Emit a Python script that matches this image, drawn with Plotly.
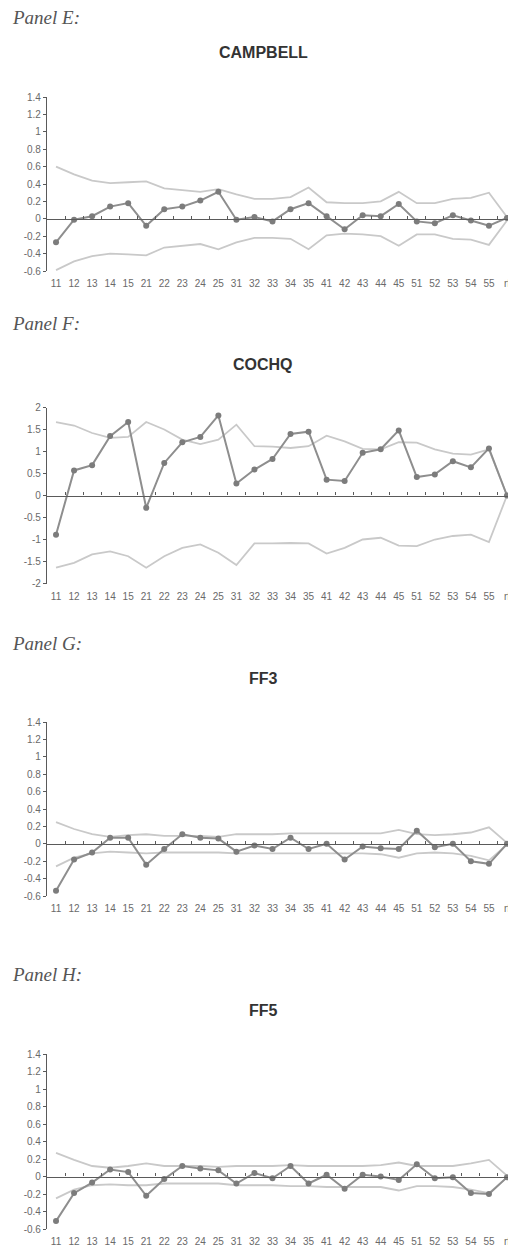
import plotly.graph_objects as go

# The page body has an 8px default margin, so the figure is drawn smaller
# and every reference pixel position is offset by 8px.
OFF = 8
W, H = 516 - OFF, 1256 - 2 * OFF

categories = ["11", "12", "13", "14", "15", "21", "22", "23", "24", "25",
              "31", "32", "33", "34", "35", "41", "42", "43", "44", "45",
              "51", "52", "53", "54", "55", "rf"]

# Panel E: CAMPBELL
campbell_alpha = [-0.27, -0.01, 0.03, 0.14, 0.18, -0.08, 0.11, 0.14, 0.21, 0.31,
                  -0.01, 0.02, -0.03, 0.11, 0.18, 0.03, -0.12, 0.04, 0.03, 0.17,
                  -0.03, -0.05, 0.04, -0.02, -0.08, 0.01]
campbell_upper = [0.60, 0.51, 0.44, 0.41, 0.42, 0.43, 0.35, 0.33, 0.31, 0.34,
                  0.28, 0.23, 0.23, 0.25, 0.36, 0.19, 0.18, 0.18, 0.20, 0.31,
                  0.18, 0.18, 0.23, 0.24, 0.30, 0.02]
campbell_lower = [-0.59, -0.49, -0.43, -0.40, -0.41, -0.42, -0.33, -0.31, -0.29, -0.35,
                  -0.27, -0.22, -0.22, -0.23, -0.35, -0.19, -0.17, -0.18, -0.20, -0.31,
                  -0.18, -0.18, -0.23, -0.24, -0.30, -0.02]

# Panel F: COCHQ
cochq_alpha = [-0.89, 0.57, 0.69, 1.35, 1.67, -0.28, 0.74, 1.21, 1.33, 1.82,
               0.27, 0.59, 0.83, 1.40, 1.45, 0.36, 0.33, 0.97, 1.05, 1.48,
               0.42, 0.48, 0.78, 0.64, 1.07, 0.00]
cochq_upper = [1.67, 1.59, 1.42, 1.31, 1.33, 1.67, 1.50, 1.27, 1.17, 1.27,
               1.61, 1.12, 1.11, 1.08, 1.12, 1.36, 1.23, 1.06, 1.05, 1.21,
               1.20, 1.05, 0.95, 0.93, 1.05, 0.00]
cochq_lower = [-1.64, -1.53, -1.34, -1.27, -1.38, -1.64, -1.38, -1.19, -1.11, -1.30,
               -1.58, -1.09, -1.09, -1.08, -1.09, -1.32, -1.19, -1.00, -0.96, -1.14,
               -1.15, -1.00, -0.92, -0.89, -1.06, 0.00]

# Panel G: FF3
ff3_alpha = [-0.54, -0.18, -0.10, 0.07, 0.07, -0.24, -0.06, 0.11, 0.07, 0.06,
             -0.09, -0.02, -0.06, 0.07, -0.06, 0.00, -0.18, -0.03, -0.05, -0.06,
             0.15, -0.04, 0.00, -0.20, -0.23, 0.00]
ff3_upper = [0.25, 0.17, 0.11, 0.08, 0.10, 0.11, 0.09, 0.09, 0.09, 0.08,
             0.11, 0.11, 0.11, 0.12, 0.12, 0.12, 0.12, 0.12, 0.12, 0.16,
             0.11, 0.10, 0.11, 0.13, 0.19, 0.01]
ff3_lower = [-0.26, -0.16, -0.11, -0.09, -0.10, -0.11, -0.10, -0.10, -0.10, -0.10,
             -0.11, -0.11, -0.11, -0.11, -0.11, -0.11, -0.11, -0.11, -0.12, -0.16,
             -0.11, -0.10, -0.11, -0.14, -0.19, -0.01]

# Panel H: FF5
ff5_alpha = [-0.51, -0.19, -0.07, 0.08, 0.05, -0.22, -0.03, 0.12, 0.09, 0.07,
             -0.08, 0.04, -0.02, 0.12, -0.08, 0.02, -0.14, 0.02, 0.00, -0.04,
             0.14, -0.02, -0.01, -0.19, -0.20, -0.01]
ff5_upper = [0.27, 0.19, 0.12, 0.10, 0.12, 0.15, 0.12, 0.12, 0.12, 0.11,
             0.12, 0.12, 0.12, 0.13, 0.12, 0.12, 0.12, 0.12, 0.13, 0.16,
             0.12, 0.12, 0.12, 0.15, 0.19, 0.01]
ff5_lower = [-0.25, -0.15, -0.10, -0.09, -0.10, -0.10, -0.08, -0.08, -0.08, -0.08,
             -0.10, -0.10, -0.10, -0.11, -0.11, -0.12, -0.12, -0.12, -0.12, -0.16,
             -0.11, -0.11, -0.12, -0.15, -0.19, -0.01]

ticks_small = [-0.6, -0.4, -0.2, 0, 0.2, 0.4, 0.6, 0.8, 1, 1.2, 1.4]
ticks_small_text = ["-0.6", "-0.4", "-0.2", "0", "0.2", "0.4", "0.6", "0.8", "1", "1.2", "1.4"]
ticks_big = [-2, -1.5, -1, -0.5, 0, 0.5, 1, 1.5, 2]
ticks_big_text = ["-2", "-1.5", "-1", "-0.5", "0", "0.5", "1", "1.5", "2"]

panel_labels = ["Panel E:", "Panel F:", "Panel G:", "Panel H:"]
panel_titles = ["CAMPBELL", "COCHQ", "FF3", "FF5"]

panels = [
    dict(alpha=campbell_alpha, up=campbell_upper, lo=campbell_lower, yr=[-0.6, 1.4],
         tv=ticks_small, tt=ticks_small_text, ypix=(97, 271), lab_y=18, tit_y=52),
    dict(alpha=cochq_alpha, up=cochq_upper, lo=cochq_lower, yr=[-2, 2],
         tv=ticks_big, tt=ticks_big_text, ypix=(407.5, 583.5), lab_y=323, tit_y=365),
    dict(alpha=ff3_alpha, up=ff3_upper, lo=ff3_lower, yr=[-0.6, 1.4],
         tv=ticks_small, tt=ticks_small_text, ypix=(722, 896), lab_y=643, tit_y=678),
    dict(alpha=ff5_alpha, up=ff5_upper, lo=ff5_lower, yr=[-0.6, 1.4],
         tv=ticks_small, tt=ticks_small_text, ypix=(1054, 1229), lab_y=975, tit_y=1010),
]

band_color = "#c9c9c9"
line_color = "#8e8e8e"
marker_color = "#7c7c7c"
axis_color = "#5a5a5a"
text_color = "#6a6a6a"


def px_x(px):
    return (px - OFF) / W


def px_y(py):
    return 1 - (py - OFF) / H


fig = go.Figure()
layout = dict(
    width=W, height=H,
    margin=dict(l=0, r=0, t=0, b=0, autoexpand=False),
    paper_bgcolor="white", plot_bgcolor="white",
    showlegend=False,
    annotations=[],
)

xdom = [px_x(47), 1.0]
for i, p in enumerate(panels):
    n = i + 1
    xa = "x" if n == 1 else f"x{n}"
    ya = "y" if n == 1 else f"y{n}"
    for arr in (p["up"], p["lo"]):
        fig.add_trace(go.Scatter(x=categories, y=arr, mode="lines",
                                 line=dict(color=band_color, width=1.8),
                                 xaxis=xa, yaxis=ya, hoverinfo="skip"))
    fig.add_trace(go.Scatter(x=categories, y=p["alpha"], mode="lines+markers",
                             line=dict(color=line_color, width=2),
                             marker=dict(color=marker_color, size=6),
                             xaxis=xa, yaxis=ya))
    # empty trace so the zero-line axis is drawn
    fig.add_trace(go.Scatter(x=[None], y=[None], mode="lines",
                             xaxis=f"x{n + 4}", yaxis=ya, hoverinfo="skip"))
    top, bot = p["ypix"]
    ydom = [px_y(bot), px_y(top)]
    y0, y1 = p["yr"]
    zero_pos = ydom[0] + (0 - y0) / (y1 - y0) * (ydom[1] - ydom[0])

    layout["xaxis" if n == 1 else f"xaxis{n}"] = dict(
        domain=xdom, anchor=ya, type="category", range=[-0.5, 25.5],
        showline=False, showgrid=False, zeroline=False,
        ticks="outside", ticklen=3, tickcolor="white",
        tickfont=dict(family="Liberation Sans, Arial", size=10, color=text_color),
        tickangle=0, fixedrange=True, automargin=False,
    )
    layout["yaxis" if n == 1 else f"yaxis{n}"] = dict(
        domain=ydom, anchor=xa, range=p["yr"], tickvals=p["tv"], ticktext=p["tt"],
        showline=True, linecolor=axis_color, linewidth=1.2,
        ticks="outside", ticklen=3, tickcolor=axis_color,
        showgrid=False, zeroline=False,
        tickfont=dict(family="Liberation Sans, Arial", size=10, color=text_color),
        fixedrange=True, automargin=False,
    )
    # zero-line axis with small tick marks at category boundaries
    layout[f"xaxis{n + 4}"] = dict(
        domain=xdom, overlaying=xa, anchor="free", position=zero_pos, side="bottom",
        range=[-0.5, 25.5], tick0=0.5, dtick=1, showticklabels=False,
        showline=True, linecolor=axis_color, linewidth=1.3,
        ticks="inside", ticklen=3, tickcolor=axis_color,
        showgrid=False, zeroline=False, fixedrange=True, automargin=False,
    )
    layout["annotations"].append(dict(
        text="<i>" + panel_labels[i] + "</i>", xref="paper", yref="paper",
        x=px_x(10), y=px_y(p["lab_y"]),
        xanchor="left", yanchor="middle", showarrow=False,
        font=dict(family="Liberation Serif, Times New Roman", size=19, color="#555555"),
    ))
    layout["annotations"].append(dict(
        text="<b>" + panel_titles[i] + "</b>", xref="paper", yref="paper",
        x=px_x(263), y=px_y(p["tit_y"]), xanchor="center", yanchor="middle",
        showarrow=False,
        font=dict(family="Liberation Sans, Arial", size=16, color="#333333"),
    ))

fig.update_layout(**layout)
fig.write_html("out.html")
